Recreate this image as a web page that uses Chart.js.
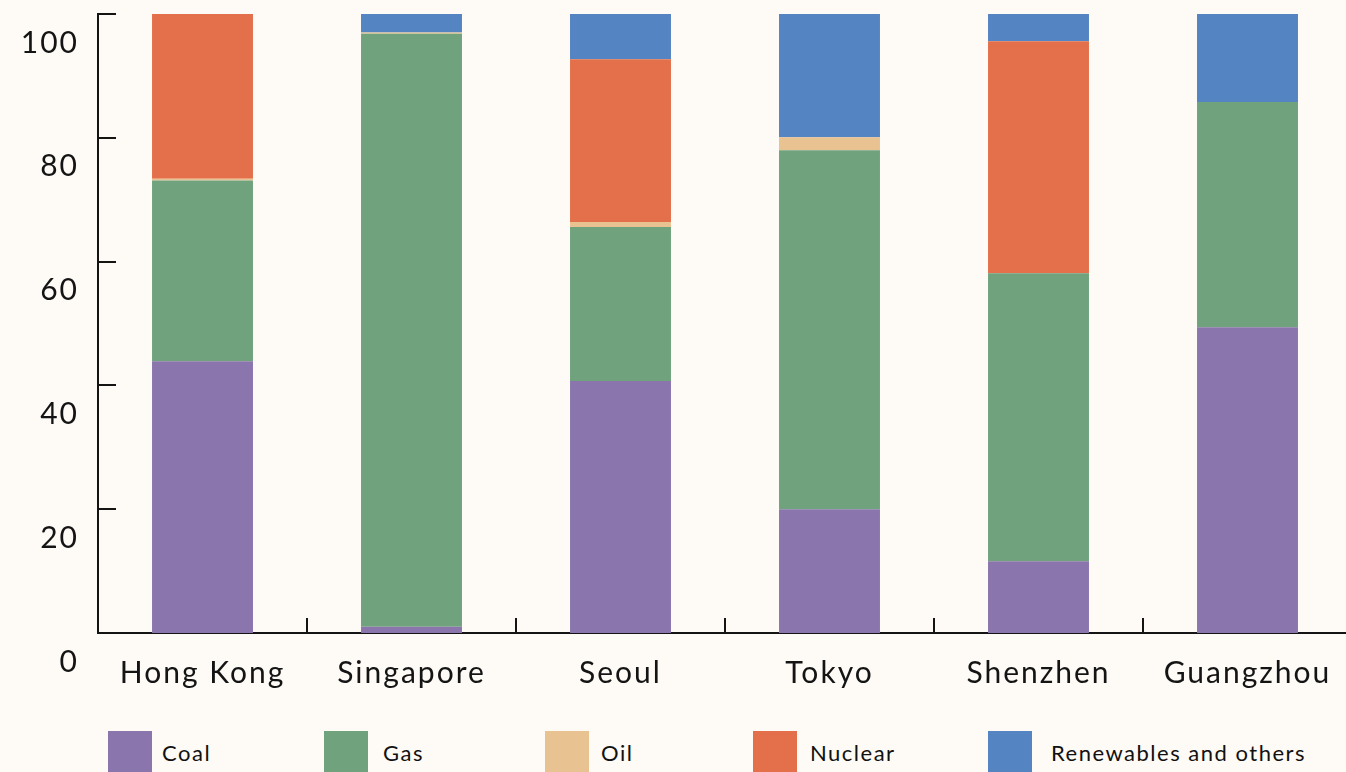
<!DOCTYPE html>
<html>
<head>
<meta charset="utf-8">
<script src="https://cdn.jsdelivr.net/npm/chart.js@4/dist/chart.umd.min.js"></script>
<style>
  html, body { margin: 0; padding: 0; background: #fefaf5; overflow: hidden; }
  #wrap { position: relative; width: 1346px; height: 772px; overflow: hidden; }
  #box { position: absolute; left: 0; top: 0; width: 1362px; height: 710px; }
  .legend { position: absolute; top: 731px; left: 0; width: 1346px; height: 44px; font-family: Lato, sans-serif; }
  .sw { position: absolute; top: 0; width: 44px; height: 44px; }
  .lbl { position: absolute; top: 0; height: 44px; line-height: 44px; font-size: 22px; letter-spacing: 1.5px; color: #111; white-space: nowrap; }
</style>
</head>
<body>
<div id="wrap">
  <div id="box"><canvas id="chart"></canvas></div>
  <div class="legend" id="legend"></div>
</div>
<script>
const cities = ['Hong Kong', 'Singapore', 'Seoul', 'Tokyo', 'Shenzhen', 'Guangzhou'];

// share of power generation by fuel, percent
const coal       = [43.9,  1.0, 40.7, 20.0, 11.6, 49.4];
const gas        = [29.2, 95.8, 24.9, 58.0, 46.5, 36.4];
const oil        = [ 0.3,  0.2,  0.8,  2.1,  0.0,  0.0];
const nuclear    = [26.6,  0.0, 26.3,  0.0, 37.5,  0.0];
const renewables = [ 0.0,  3.0,  7.3, 19.9,  4.4, 14.2];

const yTicks = [0, 20, 40, 60, 80, 100];

const series = [
  { label: 'Coal', data: coal, color: '#8a76ad' },
  { label: 'Gas', data: gas, color: '#70a37d' },
  { label: 'Oil', data: oil, color: '#e9c291' },
  { label: 'Nuclear', data: nuclear, color: '#e4704b' },
  { label: 'Renewables and others', data: renewables, color: '#5584c2' }
];

// legend swatch / text x offsets
const legendBoxX = [108, 324, 545, 753, 988];
const legendTextX = [162, 383, 601, 810, 1051];

const ink = '#141414';

// wider tracking for canvas text
const tracking = {
  id: 'tracking',
  beforeDraw(chart) { chart.ctx.letterSpacing = '2px'; }
};

// short tick marks pointing into the plot
const innerTicks = {
  id: 'innerTicks',
  afterDraw(chart) {
    const { ctx } = chart;
    const xs = chart.scales.x, ys = chart.scales.y;
    ctx.save();
    ctx.strokeStyle = ink;
    ctx.lineWidth = 2;
    ctx.beginPath();
    ys.ticks.forEach((t, i) => {
      const py = Math.round(ys.getPixelForTick(i));
      ctx.moveTo(xs.left, py);
      ctx.lineTo(xs.left + 18, py);
    });
    for (let i = 0; i <= cities.length; i++) {
      const px = Math.round(xs.getPixelForValue(i - 0.5));
      ctx.moveTo(px, ys.bottom);
      ctx.lineTo(px, ys.bottom - 15);
    }
    ctx.stroke();
    ctx.restore();
  }
};

new Chart(document.getElementById('chart'), {
  type: 'bar',
  data: {
    labels: cities,
    datasets: series.map(s => ({
      label: s.label,
      data: s.data,
      backgroundColor: s.color,
      borderWidth: 0,
      categoryPercentage: 1,
      barPercentage: 0.483
    }))
  },
  options: {
    responsive: true,
    maintainAspectRatio: false,
    animation: false,
    devicePixelRatio: 1,
    layout: { padding: { top: 14, right: 10, left: 0, bottom: 0 } },
    plugins: { legend: { display: false }, tooltip: { enabled: false } },
    scales: {
      x: {
        stacked: true,
        offset: true,
        grid: { display: false },
        border: { display: true, color: ink, width: 2 },
        ticks: { color: ink, font: { family: 'Lato', size: 30 }, padding: 14, maxRotation: 0 },
        afterFit(scale) { scale.height = 77; scale.paddingLeft = 0; scale.paddingRight = 0; }
      },
      y: {
        stacked: true,
        min: 0,
        max: 100,
        afterBuildTicks(scale) { scale.ticks = yTicks.map(v => ({ value: v })); },
        grid: { display: false, drawTicks: false },
        border: { display: true, color: ink, width: 2 },
        ticks: { color: ink, font: { family: 'Lato', size: 30 }, padding: 19, labelOffset: 29 },
        afterFit(scale) { scale.width = 98; scale.paddingTop = 0; scale.paddingBottom = 0; }
      }
    }
  },
  plugins: [tracking, innerTicks]
});

const legend = document.getElementById('legend');
series.forEach((s, i) => {
  const sw = document.createElement('div');
  sw.className = 'sw';
  sw.style.left = legendBoxX[i] + 'px';
  sw.style.background = s.color;
  const txt = document.createElement('div');
  txt.className = 'lbl';
  txt.style.left = legendTextX[i] + 'px';
  txt.textContent = s.label;
  legend.appendChild(sw);
  legend.appendChild(txt);
});
</script>
</body>
</html>
